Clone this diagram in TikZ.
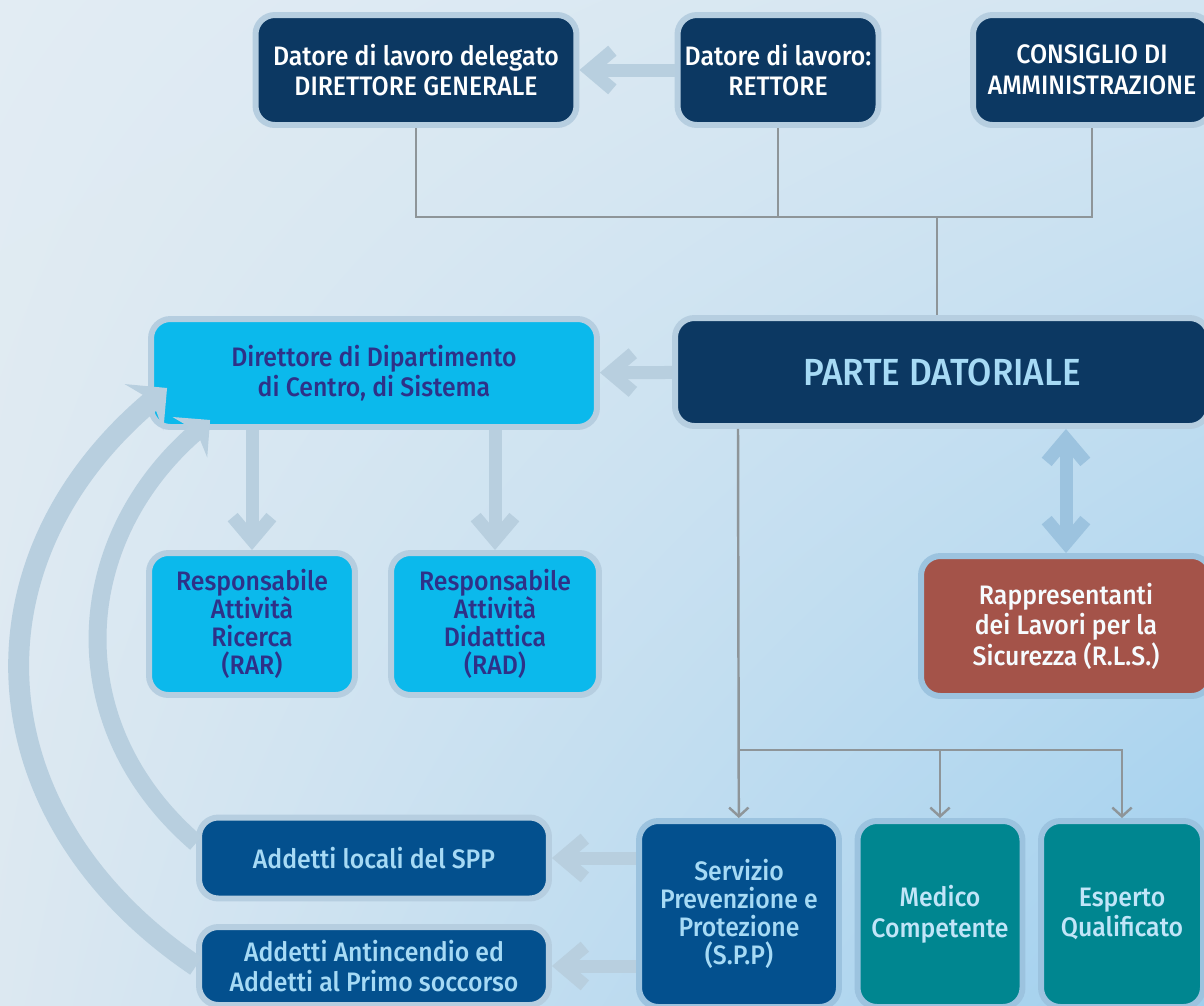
\documentclass[tikz,border=0pt]{standalone}
\usepackage{fontspec}
\setmainfont{Fira Sans}[UprightFont=* Medium, FakeStretch=0.93]
\usetikzlibrary{arrows.meta,calc,shadings}

\definecolor{bgtl}{HTML}{E2ECF3}
\definecolor{bgtr}{HTML}{D3E5F2}
\definecolor{bgbl}{HTML}{DCE8F1}
\definecolor{bgbr}{HTML}{9FCFEE}
\definecolor{navy}{HTML}{0C3862}
\definecolor{cyanbox}{HTML}{0BB9EC}
\definecolor{sppblue}{HTML}{03508E}
\definecolor{teal}{HTML}{008690}
\definecolor{rlsred}{HTML}{A45349}
\definecolor{rim}{HTML}{B6CEE0}
\definecolor{rimblue}{HTML}{9CC3DF}
\definecolor{pale}{HTML}{B8CFDF}
\definecolor{linkgray}{HTML}{8E9599}
\definecolor{lighttext}{HTML}{A6DAF5}
\definecolor{indigo}{HTML}{2E3188}

\begin{document}
\begin{tikzpicture}
        [x=0.02cm, y=-0.02cm,
         box/.style={rectangle, rounded corners=11pt, draw=rim, line width=3.4pt, inner sep=2pt, align=center, font=\fontsize{15.2}{17.4}\selectfont},
         tallbox/.style={box, font=\fontsize{15.2}{15.9}\selectfont},
         fatarrow/.style={draw=pale, line width=7.4pt, -{Straight Barb[length=13pt, width=22pt]}},
         curve/.style={draw=pale, -{Stealth[length=17pt, width=34pt, inset=6pt]}},
         link/.style={draw=linkgray, line width=1.4pt}]

        \useasboundingbox (0, 0) rectangle (1204, 1005);
        \shade[upper left=bgtl, upper right=bgtr, lower left=bgbl, lower right=bgbr] (0, 0) rectangle (1204, 1005);

        % vertici
        \node[box, fill=navy, text=white, minimum width=6.42cm, minimum height=2.2cm] (dlg) at (416, 70) {Datore di lavoro delegato\\DIRETTORE GENERALE};
        \node[box, fill=navy, text=white, minimum width=4.02cm, minimum height=2.2cm] (rett) at (778, 70) {Datore di lavoro:\\RETTORE};
        \node[box, fill=navy, text=white, minimum width=4.76cm, minimum height=2.2cm] (cda) at (1092, 70) {CONSIGLIO DI\\AMMINISTRAZIONE};

        \node[box, fill=cyanbox, text=indigo, minimum width=8.92cm, minimum height=2.16cm] (dir) at (374, 373) {Direttore di Dipartimento\\di Centro, di Sistema};
        \node[box, fill=navy, text=lighttext, minimum width=10.68cm, minimum height=2.16cm, font=\fontsize{21.5}{26}\selectfont] (pd) at (942, 372) {PARTE DATORIALE};

        \node[tallbox, fill=cyanbox, text=indigo, minimum width=4.12cm, minimum height=2.84cm] (rar) at (252, 624) {Responsabile\\Attività\\Ricerca\\(RAR)};
        \node[tallbox, fill=cyanbox, text=indigo, minimum width=4.16cm, minimum height=2.84cm] (rad) at (495, 624) {Responsabile\\Attività\\Didattica\\(RAD)};
        \node[box, fill=rlsred, draw=rimblue, text=white!90!lighttext, minimum width=5.8cm, minimum height=2.8cm] (rls) at (1066, 626) {Rappresentanti\\dei Lavori per la\\Sicurezza (R.L.S.)};

        \node[tallbox, fill=sppblue, draw=rimblue, text=lighttext, minimum width=4cm, minimum height=3.72cm] (spp) at (739, 914) {Servizio\\Prevenzione e\\Protezione\\(S.P.P)};
        \node[box, fill=teal, draw=rimblue, text=lighttext!70!white, minimum width=3.3cm, minimum height=3.72cm] (med) at (940, 914) {Medico\\Competente};
        \node[box, fill=teal, draw=rimblue, text=lighttext!70!white, minimum width=3.24cm, minimum height=3.72cm] (esp) at (1122, 914) {Esperto\\Qualificato};

        \node[box, fill=sppblue, text=lighttext, minimum width=7cm, minimum height=1.62cm] (loc) at (374, 858) {Addetti locali del SPP};
        \node[box, fill=sppblue, text=lighttext, minimum width=7cm, minimum height=1.56cm] (ant) at (374, 966) {Addetti Antincendio ed\\Addetti al Primo soccorso};

        % linee di collegamento
        \coordinate (jn) at (937, 217);
        \coordinate (br) at (738, 750);
        \draw[link] (dlg.south) |- (cda.south |- jn) -- (cda.south);
        \draw[link] (rett.south) -- (rett.south |- jn);
        \draw[link] (jn) -- (pd.north -| jn);
        \draw[link, -{Straight Barb[length=5pt, width=11pt]}] (pd.south -| br) -- (spp);
        \draw[link, -{Straight Barb[length=5pt, width=11pt]}] (br) -| (med);
        \draw[link, -{Straight Barb[length=5pt, width=11pt]}] (br) -| (esp);

        % frecce
        \draw[fatarrow] (rett) -- (dlg);
        \draw[fatarrow] (pd) -- (dir);
        \draw[fatarrow] (dir.south -| rar) -- (rar);
        \draw[fatarrow] (dir.south -| rad) -- (rad);
        \draw[fatarrow, draw=rimblue, {Straight Barb[length=13pt, width=22pt]}-{Straight Barb[length=13pt, width=22pt]}] (pd.south -| rls) -- (rls);
        \draw[fatarrow] (spp.west |- loc) -- (loc);
        \draw[fatarrow] (spp.west |- ant) -- (ant);

        \draw[curve, line width=11.9pt] (ant.west) .. controls +(-222, -150) and +(-206, 172) .. ($(dir.south west)+(19, -42)$);
        \draw[curve, line width=10.2pt, -{Stealth[length=15pt, width=30pt, inset=5pt]}] ($(loc.west)+(0, -15)$) .. controls +(-138, -119) and +(-139, 119) .. ($(dir.south west)+(62, -10)$);
    \end{tikzpicture}
\end{document}
